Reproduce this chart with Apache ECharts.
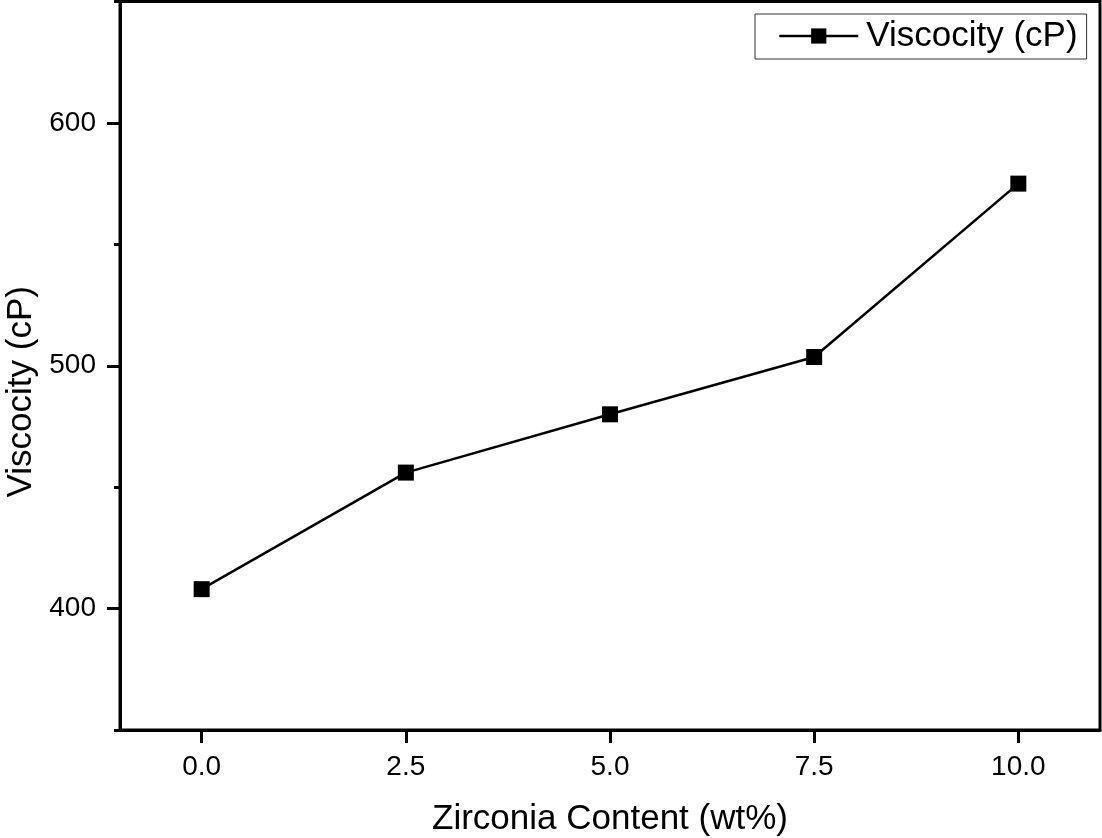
<!DOCTYPE html>
<html>
<head>
<meta charset="utf-8">
<script src="https://cdn.jsdelivr.net/npm/echarts@6/dist/echarts.min.js"></script>
<style>
  html, body { margin: 0; padding: 0; background: #fff; }
  #chart { width: 1102px; height: 838px; }
</style>
</head>
<body>
<div id="chart"></div>
<script>
// data
var zirconia = [0, 2.5, 5, 7.5, 10];
var viscosity = [408, 456, 480, 503.6, 575];
var xTicks = [0, 2.5, 5, 7.5, 10];
var yTicks = [400, 500, 600];
var yMinorTicks = [350, 450, 550, 650];

var font = '"Liberation Sans", Arial, sans-serif';

var points = [];
zirconia.forEach(function (x, i) {
    points.push([x, viscosity[i]]);
});

var myChart = echarts.init(document.getElementById('chart'));

var option = {
    backgroundColor: '#fff',
    animation: false,
    grid: {
        left: 120,
        right: 2,
        top: 1.5,
        bottom: 108,
        outerBoundsMode: 'none',
        containLabel: false,
        show: true,
        borderColor: '#000',
        borderWidth: 3
    },
    legend: {
        data: ['Viscocity (cP)'],
        left: 755,
        top: 14,
        padding: [3, 9, 4, 23],
        borderColor: '#333',
        borderWidth: 1,
        itemWidth: 79,
        itemHeight: 19,
        lineStyle: { width: 2.5, color: '#000' },
        textStyle: {
            fontFamily: font,
            fontSize: 35,
            color: '#000',
            lineHeight: 38,
            padding: [0, 0, 0, 3]
        }
    },
    xAxis: {
        type: 'value',
        min: -1,
        max: 11,
        name: 'Zirconia Content (wt%)',
        nameLocation: 'middle',
        nameGap: 72,
        nameTextStyle: { fontFamily: font, fontSize: 35, color: '#000' },
        splitLine: { show: false },
        axisLine: { show: true, onZero: false, lineStyle: { color: '#000', width: 3 } },
        axisTick: {
            show: true,
            inside: false,
            length: 13,
            customValues: xTicks,
            lineStyle: { color: '#000', width: 3 }
        },
        axisLabel: {
            customValues: xTicks,
            margin: 23,
            fontFamily: font,
            fontSize: 28,
            color: '#000',
            formatter: function (v) { return v.toFixed(1); }
        }
    },
    yAxis: [
        {
            type: 'value',
            min: 350,
            max: 650,
            name: 'Viscocity (cP)',
            nameLocation: 'middle',
            nameGap: 80,
            nameTextStyle: {
                fontFamily: font,
                fontSize: 35,
                color: '#000',
                padding: [0, 52, 0, 0]
            },
            splitLine: { show: false },
            axisLine: { show: true, onZero: false, lineStyle: { color: '#000', width: 3 } },
            axisTick: {
                show: true,
                inside: false,
                length: 13,
                customValues: yTicks,
                lineStyle: { color: '#000', width: 3 }
            },
            axisLabel: {
                customValues: yTicks,
                margin: 24,
                fontFamily: font,
                fontSize: 28,
                color: '#000'
            }
        },
        {
            // minor ticks
            type: 'value',
            position: 'left',
            min: 350,
            max: 650,
            splitLine: { show: false },
            axisLine: { show: false, onZero: false },
            axisTick: {
                show: true,
                inside: false,
                length: 6,
                customValues: yMinorTicks,
                lineStyle: { color: '#000', width: 3 }
            },
            axisLabel: { show: false }
        }
    ],
    series: [
        {
            name: 'Viscocity (cP)',
            type: 'line',
            data: points,
            symbol: 'rect',
            symbolSize: 16,
            itemStyle: { color: '#000' },
            lineStyle: { color: '#000', width: 2.5 }
        }
    ]
};

myChart.setOption(option);
</script>
</body>
</html>
